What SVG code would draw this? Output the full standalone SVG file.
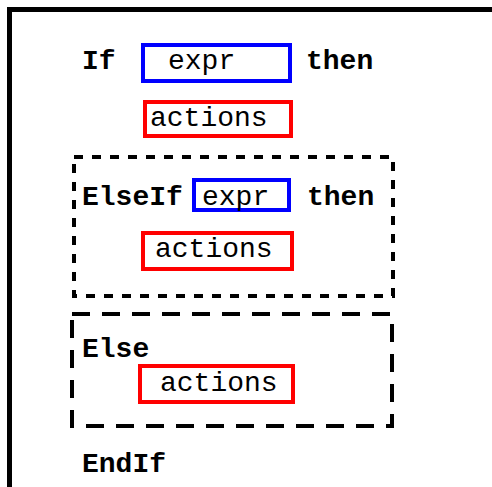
<svg xmlns="http://www.w3.org/2000/svg" width="492" height="487" viewBox="0 0 492 487">
<style>
.kw{font-family:"Liberation Mono","Courier New",monospace;font-weight:bold;font-size:28px;fill:#000}
.tx{font-family:"Liberation Mono","Courier New",monospace;font-size:28px;fill:#000}
.blue{fill:none;stroke:#0000ff;stroke-width:4}
.red{fill:none;stroke:#ff0000;stroke-width:4}
</style>
<rect width="492" height="487" fill="#fff"/>
<rect id="frame" x="9.5" y="9.5" width="500" height="500" fill="none" stroke="#000" stroke-width="5"/>
<g id="if">
<text class="kw" x="82" y="69">If</text>
<rect class="blue" x="143" y="45" width="147" height="36"/>
<text class="tx" x="168" y="69">expr</text>
<text class="kw" x="306" y="69">then</text>
<rect class="red" x="145" y="102" width="146" height="34"/>
<text class="tx" x="150" y="126">actions</text>
</g>
<g id="elseif">
<rect x="74" y="157" width="319" height="139" fill="none" stroke="#000" stroke-width="4" stroke-dasharray="9 9"/>
<text class="kw" x="82" y="205">ElseIf</text>
<rect class="blue" x="194" y="180" width="95" height="30"/>
<text class="tx" x="202" y="205">expr</text>
<text class="kw" x="307" y="205">then</text>
<rect class="red" x="143" y="233" width="149" height="36"/>
<text class="tx" x="155" y="257">actions</text>
</g>
<g id="else">
<rect x="72" y="314" width="320" height="112" fill="none" stroke="#000" stroke-width="4" stroke-dasharray="18 12"/>
<text class="kw" x="82" y="357">Else</text>
<rect class="red" x="140" y="366" width="153" height="36"/>
<text class="tx" x="160" y="391">actions</text>
</g>
<g id="endif">
<text class="kw" x="82" y="472">EndIf</text>
</g>
<g id="connectors"></g>
</svg>
